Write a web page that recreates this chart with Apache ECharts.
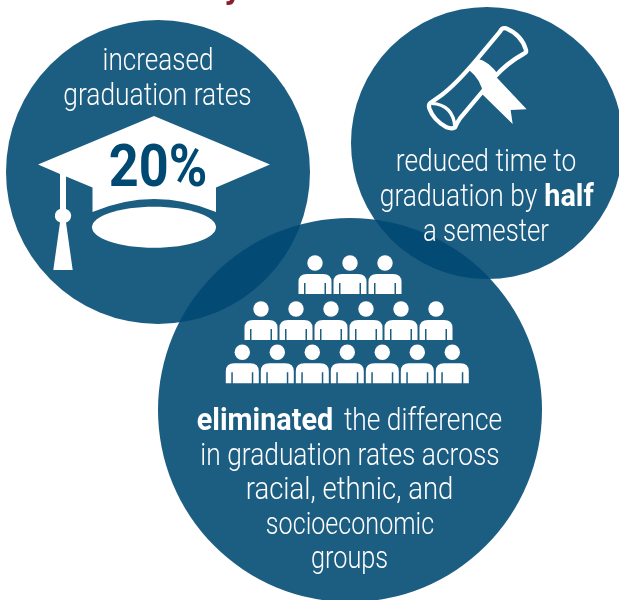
<!DOCTYPE html>
<html><head><meta charset="utf-8">
<style>html,body{margin:0;padding:0;background:#fff}#c{width:619px;height:600px}</style>
<script src="https://cdn.jsdelivr.net/npm/echarts@6/dist/echarts.min.js"></script>
</head><body><div id="c"></div>
<script>
// Circles
const circleX=[158,487,350];
const circleY=[172,143,410];
const circleR=[152,136,192];
// Text pieces
const textPieces=["increased","graduation rates","reduced time to","graduation by","half","a semester","eliminated","the difference","in graduation rates across","racial, ethnic, and","socioeconomic","groups"];
const textBold=[0,0,0,0,1,0,1,0,0,0,0,0];
const textStretch=[0.815,0.823,0.823,0.823,0.9,0.805,0.9,0.823,0.823,0.86,0.785,0.79];
const textX=[158,157.5,486,458.5,569,486,265,423,350,349.5,350,349.5];
const textY=[61.5,96.5,163,198,198,232.5,422,422,456.5,491,526,560];
const headline="20%";
// People rows
const rowCounts=[3,6,7];
const rowFirstX=[315,261,242.3];
const rowY=[263,309,352.3];
const personStep=35;

const people=[];
rowCounts.forEach((n,r)=>{for(let i=0;i<n;i++)people.push([rowFirstX[r]+i*personStep,rowY[r]]);});

const BLUE='#004973',WHITE='#ffffff',FONT='Roboto';
const FS=32;

const bodyPath='M-16.5,31 L-16.5,19 Q-16.5,11 -8,11 L8,11 Q16.5,11 16.5,19 L16.5,31 L11,31 L11,20 L9.5,20 L9.5,31 L-9.5,31 L-9.5,20 L-11,20 L-11,31 Z';
const capPath='M154,116 L270,164.5 L216,187.5 L216,212 Q154,186 92.5,212 L92.5,187.5 L66,176.5 L66,209 A7,7 0 0 1 66,222.5 L72.7,270 L53.3,270 L60,222.5 A7,7 0 0 1 60,209 L60,174 L38,164.5 Z';
const scrollBody='M30,250 L65,225 Q105,195 165,125 L240,35 Q245,22 258,25 Q305,45 318,90 Q320,98 310,102 Q260,130 225,170 L120,295 Q110,310 105,322 Q95,328 80,322 Q40,300 28,265 Q25,255 30,250 Z';
const scrollEnd='M35,250 Q100,254 105,322';
const ribbon='M147,150 L172,116 Q205,122 236,165 L190,226 Q185,180 147,150 Z M186,222 L228,170 L320,268 L272,270 L278,312 Z';

const icon=(d,style)=>({type:'path',shape:{pathData:d},style});
const opt={
  animation:false,
  backgroundColor:'#fff',
  grid:{left:0,right:0,top:0,bottom:0},
  xAxis:{type:'value',min:0,max:619,show:false},
  yAxis:{type:'value',min:0,max:600,inverse:true,show:false},
  series:[
   {type:'scatter',silent:true,symbol:'circle',
    data:circleX.map((x,i)=>[x,circleY[i],circleR[i]]),
    symbolSize:v=>v[2]*2,
    itemStyle:{color:BLUE,opacity:0.89}},
   {type:'custom',silent:true,coordinateSystem:'cartesian2d',data:[[0,0]],clip:false,z:5,
    renderItem(params,api){
      const o=api.coord([0,0]);
      const d=api.coord([420,20]);
      const dip={x:d[0],y:d[1],scaleX:1/3,scaleY:1/3};
      const kids=[
        {...icon(capPath,{fill:WHITE}),x:o[0],y:o[1]},
        {type:'ellipse',x:o[0],y:o[1],shape:{cx:154,cy:227.3,rx:62,ry:20.5},style:{fill:WHITE}},
        {...icon(scrollBody,{fill:'none',stroke:WHITE,lineWidth:13,lineJoin:'round'}),...dip},
        {...icon(scrollEnd,{fill:'none',stroke:WHITE,lineWidth:10}),...dip},
        {...icon(ribbon,{fill:WHITE}),...dip}
      ];
      const hp=api.coord([158,170.5]);
      kids.push({type:'text',x:hp[0],y:hp[1],scaleX:0.87,style:{text:headline,fontFamily:FONT,fontWeight:700,fontSize:60,fill:BLUE,align:'center',verticalAlign:'middle'}});
      const red=api.coord([233,-11]);
      kids.push({type:'text',x:red[0],y:red[1],style:{text:'y',fontFamily:FONT,fontWeight:700,fontSize:34,fill:'#8c1d2a',align:'center',verticalAlign:'middle'}});
      textPieces.forEach((t,i)=>{
        const p=api.coord([textX[i],textY[i]]);
        kids.push({type:'text',x:p[0],y:p[1],scaleX:textStretch[i],style:{
          text:t,fontFamily:FONT,fontWeight:textBold[i]?700:300,fontSize:FS,fill:WHITE,align:'center',verticalAlign:'middle'}});
      });
      return {type:'group',children:kids};
    }},
   {type:'custom',silent:true,coordinateSystem:'cartesian2d',clip:false,z:5,
    data:people,
    renderItem(params,api){
      const p=api.coord([api.value(0),api.value(1)]);
      return {type:'group',x:p[0],y:p[1],children:[
        {type:'circle',shape:{cx:0,cy:0,r:7.7},style:{fill:WHITE}},
        icon(bodyPath,{fill:WHITE})]};
    }}
  ]
};
echarts.init(document.getElementById('c'),null,{renderer:'canvas'}).setOption(opt);
</script></body></html>
